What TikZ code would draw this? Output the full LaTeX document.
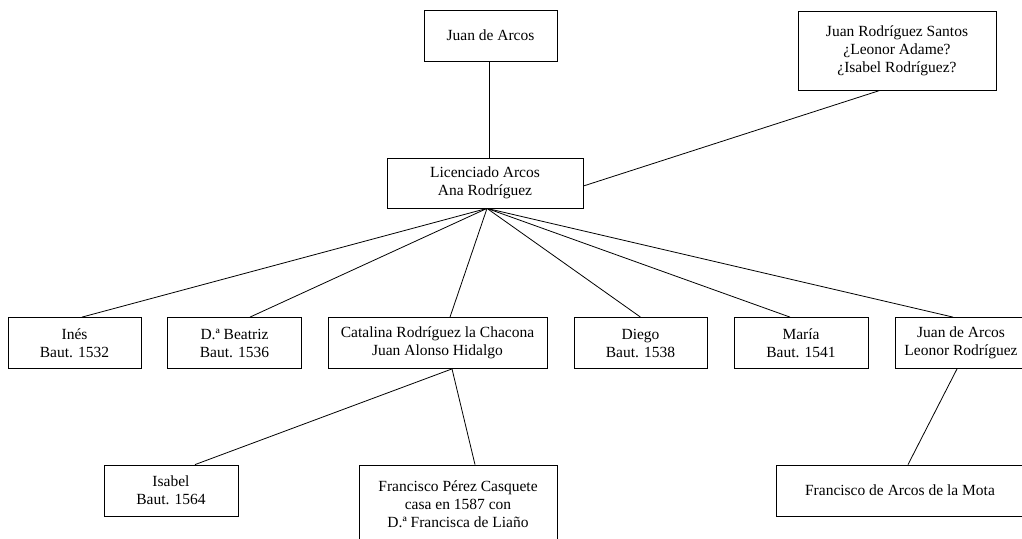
\documentclass[tikz,border=0pt]{standalone}
\usepackage{fontspec}
\setmainfont{Liberation Serif}

\begin{document}
\begin{tikzpicture}[x=1pt,y=-1pt,
	persona/.style={draw,line width=0.8pt,align=center,inner sep=0pt,minimum height=51pt,font=\fontsize{15.5}{18}\selectfont},
	enlace/.style={line width=0.8pt}]
	\fill[white] (0,0) rectangle (1022,538);
	\useasboundingbox (0,0) rectangle (1022,538);
	\node[persona,minimum width=133pt] (juan) at (490.5,35.5) {Juan de Arcos};
	\node[persona,minimum width=198pt,minimum height=79pt] (santos) at (897,50.5) {Juan Rodríguez Santos\\¿Leonor Adame?\\¿Isabel Rodríguez?};
	\node[persona,minimum width=196pt,minimum height=50pt] (lic) at (485,183) {Licenciado Arcos\\Ana Rodríguez};
	\node[persona,minimum width=133pt] (ines) at (74.5,343) {Inés\\Baut. 1532};
	\node[persona,minimum width=134pt] (beatriz) at (234.5,343) {D.ª Beatriz\\Baut. 1536};
	\node[persona,minimum width=219pt] (catalina) at (437.5,343) {Catalina Rodríguez la Chacona\\Juan Alonso Hidalgo};
	\node[persona,minimum width=133pt] (diego) at (640.5,343) {Diego\\Baut. 1538};
	\node[persona,minimum width=134pt] (maria) at (801,343) {María\\Baut. 1541};
	\node[persona,minimum width=132pt] (juanleo) at (961,343) {Juan de Arcos\\Leonor Rodríguez};
	\node[persona,minimum width=134pt] (isabel) at (171,490.5) {Isabel\\Baut. 1564};
	\node[persona,minimum width=198pt,minimum height=79pt] (perez) at (458,504.5) {Francisco Pérez Casquete\\casa en 1587 con\\D.ª Francisca de Liaño};
	\node[persona,minimum width=248pt] (mota) at (900,490.5) {Francisco de Arcos de la Mota};
	\draw[enlace] ([xshift=-1pt]juan.south) -- ([xshift=-1pt]juan.south |- lic.north);
	\draw[enlace] ([xshift=-17pt]santos.south) -- ([yshift=-3pt]lic.east);
	\draw[enlace] ([xshift=2pt]lic.south) -- ([xshift=7.5pt]ines.north);
	\draw[enlace] ([xshift=2pt]lic.south) -- ([xshift=15.5pt]beatriz.north);
	\draw[enlace] ([xshift=2pt]lic.south) -- ([xshift=12.5pt]catalina.north);
	\draw[enlace] ([xshift=2pt]lic.south) -- (diego.north);
	\draw[enlace] ([xshift=2pt]lic.south) -- ([xshift=-11pt]maria.north);
	\draw[enlace] ([xshift=2pt]lic.south) -- ([xshift=-8pt]juanleo.north);
	\draw[enlace] ([xshift=14.5pt]catalina.south) -- ([xshift=24pt]isabel.north);
	\draw[enlace] ([xshift=14.5pt]catalina.south) -- ([xshift=17pt]perez.north);
	\draw[enlace] ([xshift=-4pt]juanleo.south) -- ([xshift=8pt]mota.north);
\end{tikzpicture}
\end{document}
